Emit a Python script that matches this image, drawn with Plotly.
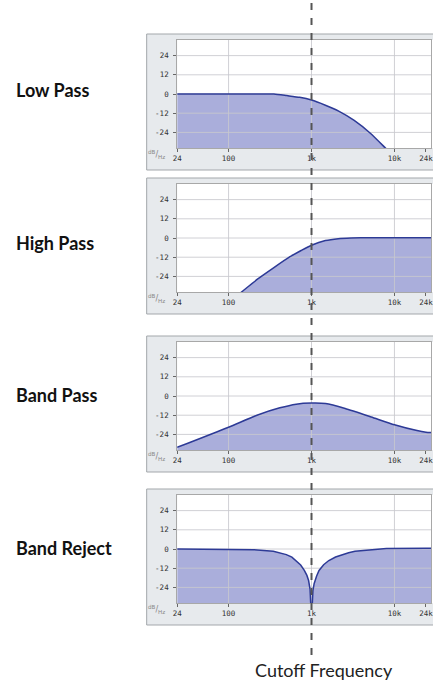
import math
import plotly.graph_objects as go

W, H = 433, 681

# ---------------- data ----------------
PANEL_NAMES = ["Low Pass", "High Pass", "Band Pass", "Band Reject"]
CUTOFF_HZ = 1000
CUTOFF_LABEL = "Cutoff Frequency"

X_TICK_VALS = [24, 100, 1000, 10000, 24000]
X_TICK_TEXT = ["24", "100", "1k", "10k", "24k"]
X_GRID_VALS = [100, 1000, 10000]
Y_TICK_VALS = [-24, -12, 0, 12, 24]
Y_TICK_TEXT = ["-24", "-12", "0", "12", "24"]

LP_FREQ = [24, 100, 200, 352, 503, 719, 1000, 1470, 2100, 3270, 5120, 7700, 9000]
LP_DB = [0, 0, 0, 0, -1.0, -2.1, -3.8, -7.0, -10.5, -16.5, -24.5, -33.5, -37]

HP_FREQ = [120, 151, 225, 352, 550, 750, 1000, 1470, 2100, 3000, 5000, 24000, 30000]
HP_DB = [-37, -32.8, -25.6, -18.5, -11.7, -7.8, -4.5, -1.6, -0.4, 0, 0.2, 0.2, 0.2]

BP_FREQ = [24, 100, 220, 415, 653, 1000, 1476, 2546, 5250, 10000, 18700, 24000, 30000]
BP_DB = [-32.1, -19.5, -12, -7.4, -5.1, -4.4, -4.7, -7.8, -13.1, -18, -21.6, -22.6, -23]

BR_FREQ = [24, 100, 201, 346, 420, 497, 580, 653, 740, 819, 880, 922, 960, 990,
           1010, 1040, 1075, 1150, 1232, 1400, 1617, 1950, 2324, 2800, 3337, 4500,
           6300, 8000, 24000, 30000]
BR_DB = [0, 0, -0.4, -1.4, -2.3, -3.5, -5.1, -7.2, -10.0, -13.4, -16.5, -19.7, -25, -40,
         -40, -26, -21.7, -17, -13.4, -9.8, -7.2, -5.0, -3.5, -2.3, -1.4, -0.7,
         -0.3, 0.3, 0.4, 0.4]

SERIES = [(LP_FREQ, LP_DB), (HP_FREQ, HP_DB), (BP_FREQ, BP_DB), (BR_FREQ, BR_DB)]

# ---------------- layout geometry (pixels) ----------------
PLOT_LEFT = 175
PLOT_TOPS = [40, 184, 342, 495]
PLOT_H = 108
FRAME_LEFT = 144
LABEL_Y = [89.5, 242.7, 395, 548]
PX_PER_DECADE = 84.3
Y_RANGE = [-33.75, 33.75]

X_RANGE = [math.log10(24), math.log10(24) + (W - PLOT_LEFT) / PX_PER_DECADE]

FILL = "#aaaedb"
LINE = "#2d3a96"
GRID = "rgba(200,200,206,0.85)"
FRAME_FILL = "#e7eaed"
FRAME_LINE = "#a3a7ab"
SMOOTHING = [0.6, 0.6, 0.6, 0.0]


def py(px):
    return 1 - px / H


def px_x(px):
    return px / W


fig = go.Figure()
layout = dict(
    width=W, height=H, margin=dict(l=0, r=0, t=0, b=0),
    paper_bgcolor="white", plot_bgcolor="rgba(0,0,0,0)",
    showlegend=False, shapes=[], annotations=[],
)

for i, ((freq, db), top) in enumerate(zip(SERIES, PLOT_TOPS)):
    n = i + 1
    xa = "x" if n == 1 else f"x{n}"
    ya = "y" if n == 1 else f"y{n}"
    bottom = top + PLOT_H
    smooth = SMOOTHING[i]
    line_shape = dict(shape="spline", smoothing=smooth) if smooth > 0 else dict(shape="linear")

    # fill polygon
    fig.add_trace(go.Scatter(
        x=list(freq) + [freq[-1], freq[0]],
        y=list(db) + [-80, -80],
        fill="toself", fillcolor=FILL, mode="lines",
        line=dict(width=0, **line_shape),
        hoverinfo="skip", xaxis=xa, yaxis=ya,
    ))
    # grid lines drawn over the fill
    gx, gy = [], []
    for v in Y_TICK_VALS:
        gx += [1, 1e6, None]
        gy += [v, v, None]
    for v in X_GRID_VALS:
        gx += [v, v, None]
        gy += [-100, 100, None]
    fig.add_trace(go.Scatter(
        x=gx, y=gy, mode="lines", line=dict(color=GRID, width=1),
        hoverinfo="skip", xaxis=xa, yaxis=ya,
    ))
    # response line
    fig.add_trace(go.Scatter(
        x=freq, y=db, mode="lines",
        line=dict(color=LINE, width=1.5, **line_shape),
        hoverinfo="skip", xaxis=xa, yaxis=ya,
    ))

    axis_common = dict(
        showline=True, linecolor="#a8a8a8", linewidth=1, mirror=True,
        zeroline=False, showgrid=False, ticks="outside", ticklen=3,
        tickcolor="#666", tickfont=dict(family="DejaVu Sans Mono", size=7.5, color="#333"),
        fixedrange=True, ticklabeloverflow="allow",
    )
    layout[f"xaxis{n if n > 1 else ''}"] = dict(
        axis_common, type="log", range=X_RANGE,
        domain=[px_x(PLOT_LEFT), 1], anchor=ya,
        tickmode="array", tickvals=X_TICK_VALS, ticktext=X_TICK_TEXT,
    )
    layout[f"yaxis{n if n > 1 else ''}"] = dict(
        axis_common, range=Y_RANGE,
        domain=[py(bottom), py(top)], anchor=xa,
        tickmode="array", tickvals=Y_TICK_VALS, ticktext=Y_TICK_TEXT,
        ticklabelstandoff=3,
    )

    # frame and white plotting area
    layout["shapes"].append(dict(
        type="rect", xref="paper", yref="paper", layer="below",
        x0=px_x(FRAME_LEFT), x1=1.05, y0=py(bottom + 22), y1=py(top - 6),
        fillcolor=FRAME_FILL, line=dict(color=FRAME_LINE, width=1),
    ))
    layout["shapes"].append(dict(
        type="rect", xref="paper", yref="paper", layer="below",
        x0=px_x(PLOT_LEFT), x1=1.05, y0=py(bottom), y1=py(top),
        fillcolor="white", line=dict(width=0),
    ))

    # panel label
    layout["annotations"].append(dict(
        text=f"<b>{PANEL_NAMES[i]}</b>", xref="paper", yref="paper",
        x=px_x(9), y=py(LABEL_Y[i]), xanchor="left", yanchor="middle",
        showarrow=False, font=dict(family="Lato", size=18, color="#111"),
    ))
    # dB/Hz unit label
    layout["annotations"].append(dict(
        text="<sup>dB</sup>/<sub>Hz</sub>", xref="paper", yref="paper",
        x=px_x(154), y=py(bottom + 6), xanchor="center", yanchor="middle",
        showarrow=False, font=dict(family="DejaVu Sans", size=8, color="#888"),
    ))

# dashed cutoff line across all panels
layout["shapes"].append(dict(
    type="line", xref="x", yref="paper", x0=CUTOFF_HZ, x1=CUTOFF_HZ,
    y0=py(655), y1=1.0, layer="above",
    line=dict(color="#555", width=2, dash="7px,8px"),
))
layout["annotations"].append(dict(
    text=CUTOFF_LABEL, xref="x", yref="paper", x=math.log10(CUTOFF_HZ), y=py(670),
    xanchor="center", yanchor="middle", showarrow=False, xshift=12,
    font=dict(family="Lato", size=18, color="#222"),
))

fig.update_layout(**layout)
fig.write_html(
    "out.html",
    config={"displayModeBar": False},
    post_script="document.body.style.margin='0';document.body.style.overflow='hidden';",
)
